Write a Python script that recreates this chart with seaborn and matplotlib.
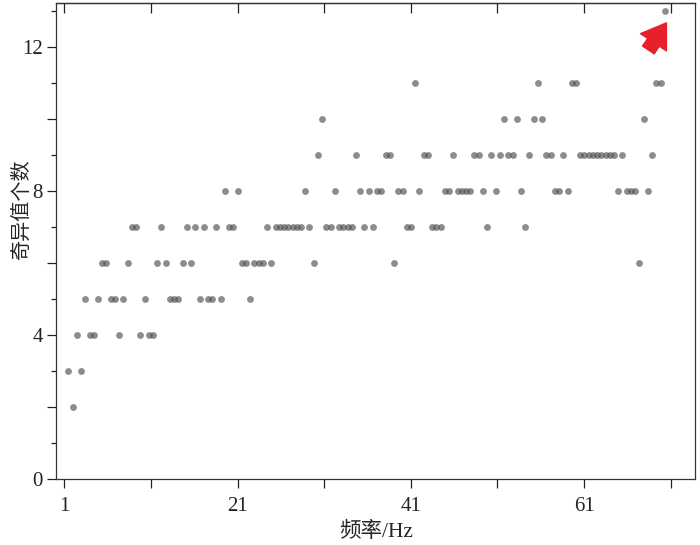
import numpy as np
import seaborn as sns
import matplotlib.pyplot as plt

# frequency grid: FFT bins 3..144 at 1000/2048 Hz resolution
bins = np.arange(3, 145)
freq = bins * 1000 / 2048

# number of singular values at each frequency
counts = [3, 2, 4, 3, 5, 4, 4, 5, 6, 6,
          5, 5, 4, 5, 6, 7, 7, 4, 5, 4,
          4, 6, 7, 6, 5, 5, 5, 6, 7, 6,
          7, 5, 7, 5, 5, 7, 5, 8, 7, 7,
          8, 6, 6, 5, 6, 6, 6, 7, 6, 7,
          7, 7, 7, 7, 7, 7, 8, 7, 6, 9,
          10, 7, 7, 8, 7, 7, 7, 7, 9, 8,
          7, 8, 7, 8, 8, 9, 9, 6, 8, 8,
          7, 7, 11, 8, 9, 9, 7, 7, 7, 8,
          8, 9, 8, 8, 8, 8, 9, 9, 8, 7,
          9, 8, 9, 10, 9, 9, 10, 8, 7, 9,
          10, 11, 10, 9, 9, 8, 8, 9, 8, 11,
          11, 9, 9, 9, 9, 9, 9, 9, 9, 9,
          8, 9, 8, 8, 8, 6, 10, 8, 9, 11,
          11, 13]

xticks = [1, 11, 21, 31, 41, 51, 61, 71]
xticklabels = ["1", "", "21", "", "41", "", "61", ""]
yticks = [0, 2, 4, 6, 8, 10, 12]
yticklabels = ["0", "", "4", "", "8", "", "12"]
yminor = [1, 3, 5, 7, 9, 11, 13]

sns.set_style("ticks")
plt.rcParams['font.family'] = ['Liberation Serif', 'Noto Sans CJK SC']
plt.rcParams['axes.unicode_minus'] = False

fig = plt.figure(figsize=(7, 5.45), dpi=100)
ax = fig.add_axes([55.7 / 700, 66 / 545, (695 - 55.7) / 700, (479 - 2.7) / 545])

sns.scatterplot(x=freq, y=counts, ax=ax, color="#4f4f4f", alpha=0.65,
                s=24, linewidth=0, legend=False)

ax.set_xlim(0, 73.8)
ax.set_ylim(0, 13.22)
ax.set_xticks(xticks)
ax.set_xticklabels(xticklabels)
ax.set_yticks(yticks)
ax.set_yticklabels(yticklabels)
ax.set_yticks(yminor, minor=True)
ax.tick_params(axis='both', which='major', direction='out', length=6.3, width=0.9,
               colors='#222222', labelsize=15)
ax.tick_params(axis='y', which='minor', direction='out', length=3.6, width=0.9,
               colors='#222222')
ax.tick_params(axis='x', pad=7)
ax.tick_params(axis='y', pad=2.8)

top = ax.secondary_xaxis('top')
top.set_xticks(xticks)
top.tick_params(axis='x', direction='in', length=7, width=0.9,
                colors='#222222', labeltop=False)

for sp in ax.spines.values():
    sp.set_visible(True)
    sp.set_color('#333333')
    sp.set_linewidth(0.9)
top.spines['top'].set_color('#333333')
top.spines['top'].set_linewidth(0.9)

ax.set_xlabel("频率/Hz", fontsize=15.5)
ax.set_ylabel("奇异值个数", fontsize=14.5)
ax.xaxis.set_label_coords(0.501, -0.09)
ax.yaxis.set_label_coords(-0.038, 0.567)

ax.annotate('', xy=(70.5, 12.66), xytext=(-13, -19.5), textcoords='offset points',
            arrowprops=dict(arrowstyle='simple,head_length=0.6,head_width=0.8,tail_width=0.36',
                            color='#e8202a', shrinkA=0, shrinkB=0, mutation_scale=28),
            annotation_clip=False)

plt.savefig("out.png", dpi=100)
